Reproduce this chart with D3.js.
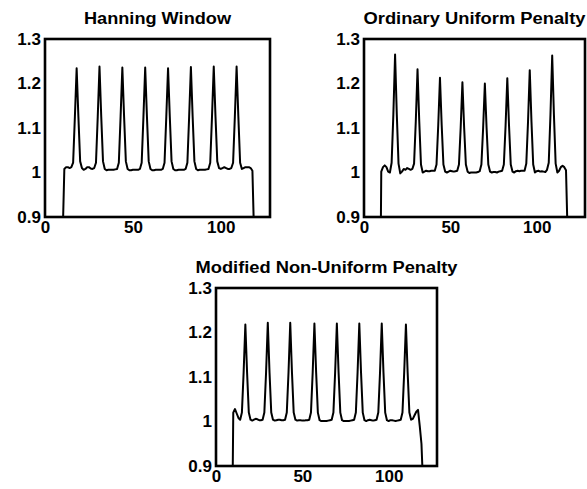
<!DOCTYPE html>
<html>
<head>
<meta charset="utf-8">
<script src="https://cdn.jsdelivr.net/npm/d3@7"></script>
<style>
  body { margin: 0; background: #fff; }
  text { font-family: "Liberation Sans", Arial, Helvetica, sans-serif; font-weight: bold; fill: #000; }
</style>
</head>
<body>
<script>
'use-strict';

// figure size
let width = 587,
  height = 489

// sample index of the first value in every series (one value per sample)
const firstSample = 9;

// tick values and labels shared by the three panels
const xTicks = [0, 50, 100];
const xTickLabels = ["0", "50", "100"];
const yTicks = [0.9, 1.0, 1.1, 1.2, 1.3];
const yTickLabels = ["0.9", "1", "1.1", "1.2", "1.3"];

const titles = ["Hanning Window", "Ordinary Uniform Penalty", "Modified Non-Uniform Penalty"];

// samples 9..121
const hanning = [
  0, 0.85, 1.008, 1.012, 1.012, 1.010, 1.012, 1.022, 1.125, 1.234,
  1.125, 1.025, 1.010, 1.006, 1.008, 1.012, 1.012, 1.009, 1.008, 1.010,
  1.022, 1.125, 1.238, 1.125, 1.025, 1.008, 1.005, 1.006, 1.006, 1.006,
  1.006, 1.007, 1.008, 1.022, 1.125, 1.236, 1.125, 1.025, 1.008, 1.005,
  1.005, 1.006, 1.006, 1.006, 1.006, 1.008, 1.022, 1.125, 1.236, 1.125,
  1.025, 1.008, 1.005, 1.005, 1.006, 1.006, 1.006, 1.006, 1.008, 1.022,
  1.125, 1.234, 1.125, 1.025, 1.008, 1.005, 1.005, 1.006, 1.006, 1.006,
  1.006, 1.008, 1.022, 1.125, 1.237, 1.125, 1.025, 1.008, 1.005, 1.006,
  1.006, 1.006, 1.006, 1.007, 1.008, 1.022, 1.125, 1.238, 1.125, 1.025,
  1.010, 1.008, 1.010, 1.012, 1.010, 1.008, 1.008, 1.010, 1.022, 1.125,
  1.238, 1.125, 1.022, 1.008, 1.010, 1.012, 1.012, 1.012, 1.010, 1.004,
  0.85, 0, 0
];

const ordinary = [
  0.5, 1.002, 1.012, 1.016, 1.012, 1.002, 1.000, 1.022, 1.13, 1.265,
  1.13, 1.020, 0.998, 1.002, 1.008, 1.006, 1.010, 1.008, 1.006, 1.008,
  1.020, 1.115, 1.232, 1.115, 1.018, 1.000, 1.002, 1.004, 1.003, 1.003,
  1.004, 1.004, 1.004, 1.018, 1.106, 1.213, 1.106, 1.018, 1.002, 1.000,
  1.002, 1.004, 1.003, 1.002, 1.003, 1.004, 1.018, 1.101, 1.203, 1.101,
  1.018, 1.002, 0.999, 1.000, 1.000, 1.000, 1.000, 1.001, 1.003, 1.018,
  1.100, 1.200, 1.100, 1.018, 1.002, 1.000, 1.001, 1.001, 1.000, 1.002,
  1.003, 1.004, 1.018, 1.105, 1.212, 1.105, 1.018, 1.002, 1.000, 1.003,
  1.004, 1.003, 1.004, 1.004, 1.004, 1.020, 1.114, 1.230, 1.114, 1.018,
  1.000, 1.003, 1.004, 1.002, 1.003, 1.002, 1.001, 1.006, 1.022, 1.13,
  1.263, 1.13, 1.020, 1.000, 1.004, 1.012, 1.015, 1.012, 1.005, 0.85,
  0, 0, 0
];

const modified = [
  0.6, 1.020, 1.028, 1.018, 1.008, 1.004, 1.020, 1.11, 1.218, 1.11,
  1.020, 1.004, 1.002, 1.004, 1.006, 1.005, 1.003, 1.003, 1.004, 1.020,
  1.11, 1.222, 1.11, 1.020, 1.004, 1.002, 1.003, 1.004, 1.004, 1.003,
  1.003, 1.004, 1.020, 1.11, 1.222, 1.11, 1.020, 1.004, 1.002, 1.003,
  1.003, 1.002, 1.002, 1.003, 1.003, 1.004, 1.020, 1.11, 1.220, 1.11,
  1.020, 1.003, 1.001, 1.001, 1.001, 1.001, 1.002, 1.003, 1.004, 1.020,
  1.11, 1.220, 1.11, 1.020, 1.003, 1.001, 1.001, 1.001, 1.001, 1.002,
  1.003, 1.004, 1.020, 1.11, 1.220, 1.11, 1.020, 1.003, 1.001, 1.003,
  1.004, 1.003, 1.002, 1.003, 1.004, 1.020, 1.11, 1.220, 1.11, 1.020,
  1.003, 1.001, 1.003, 1.003, 1.002, 1.001, 1.002, 1.003, 1.004, 1.020,
  1.11, 1.218, 1.11, 1.020, 1.004, 1.006, 1.014, 1.022, 1.026, 0.99,
  0.95, 0.85, 0
];

window.onload = function () {
  let svg = d3.select("body")
    .append("svg")
    .attr("width", width)
    .attr("height", height);

  // panel boxes in pixels: left, top, width, height, title width
  drawPanel(svg, 0, hanning, { left: 45, top: 39, w: 225, h: 178, tw: 147 });
  drawPanel(svg, 1, ordinary, { left: 364, top: 39, w: 221, h: 178, tw: 222 });
  drawPanel(svg, 2, modified, { left: 216, top: 288, w: 221, h: 178, tw: 262 });
}

function drawPanel(svg, idx, values, box) {
  let x = d3.scaleLinear().domain([0, 128]).range([0, box.w]);
  let y = d3.scaleLinear().domain([0.9, 1.3]).range([box.h, 0]);

  let g = svg.append("g")
    .attr("transform", "translate(" + box.left + "," + box.top + ")");

  // clip the curve to the axes
  g.append("clipPath")
    .attr("id", "clip" + idx)
    .append("rect")
    .attr("width", box.w)
    .attr("height", box.h);

  let line = d3.line()
    .x((d, i) => x(firstSample + i))
    .y(d => y(d));

  g.append("path")
    .datum(values)
    .attr("clip-path", "url(#clip" + idx + ")")
    .attr("d", line)
    .attr("fill", "none")
    .attr("stroke", "#000")
    .attr("stroke-width", 2)
    .attr("stroke-linejoin", "round");

  // axes, labels only
  let xAxis = g.append("g")
    .attr("transform", "translate(0," + box.h + ")")
    .call(d3.axisBottom(x)
      .tickValues(xTicks)
      .tickSize(0)
      .tickPadding(4)
      .tickFormat((d, i) => xTickLabels[i]));

  let yAxis = g.append("g")
    .call(d3.axisLeft(y)
      .tickValues(yTicks)
      .tickSize(0)
      .tickPadding(4)
      .tickFormat((d, i) => yTickLabels[i]));

  [xAxis, yAxis].forEach(a => {
    a.select(".domain").remove();
    a.selectAll("text")
      .style("font-size", "17px")
      .style("font-weight", "bold")
      .attr("fill", "#000");
  });

  // box
  g.append("rect")
    .attr("width", box.w)
    .attr("height", box.h)
    .attr("fill", "none")
    .attr("stroke", "#000")
    .attr("stroke-width", 2.6);

  // title
  g.append("text")
    .attr("x", box.w / 2)
    .attr("y", -15)
    .attr("text-anchor", "middle")
    .attr("textLength", box.tw)
    .attr("lengthAdjust", "spacingAndGlyphs")
    .style("font-size", "16px")
    .text(titles[idx]);
}
</script>
</body>
</html>
